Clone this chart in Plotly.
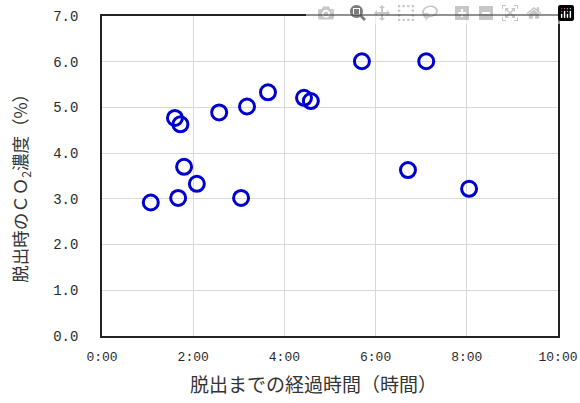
import plotly.graph_objects as go

# elapsed time until escape (hours) and CO2 concentration at escape (%)
elapsed_hours = [1.07, 1.60, 1.72, 1.80, 1.67, 2.08, 2.57, 3.18, 3.64, 3.05,
                 4.43, 4.58, 5.70, 7.11, 6.71, 8.05]
co2_percent = [2.92, 4.77, 4.63, 3.70, 3.02, 3.33, 4.89, 5.02, 5.33, 3.02,
               5.21, 5.14, 6.01, 6.01, 3.63, 3.22]

x_tick_vals = [0, 2, 4, 6, 8, 10]
x_tick_text = ["0:00", "2:00", "4:00", "6:00", "8:00", "10:00"]
y_tick_vals = [0, 1, 2, 3, 4, 5, 6, 7]
y_tick_text = ["0.0", "1.0", "2.0", "3.0", "4.0", "5.0", "6.0", "7.0"]

x_title = "脱出までの経過時間（時間）"
y_title = "脱出時のＣＯ<sub>2</sub>濃度（%）"

fig = go.Figure()
fig.add_trace(go.Scatter(
    x=elapsed_hours, y=co2_percent, mode="markers",
    marker=dict(symbol="circle-open", size=15, color="#0000CC",
                line=dict(width=3, color="#0000CC")),
    showlegend=False,
))

x_tick_font = dict(family="Liberation Mono, DejaVu Sans Mono, monospace", size=13, color="#2a2a2a")
y_tick_font = dict(family="Liberation Mono, DejaVu Sans Mono, monospace", size=14, color="#2a2a2a")
x_title_font = dict(family="Noto Sans CJK JP", size=19, color="#333333")
y_title_font = dict(family="Noto Sans CJK JP", size=17.5, color="#333333")

fig.update_layout(
    width=580, height=403,
    margin=dict(l=102, r=22, t=16, b=67),
    paper_bgcolor="white", plot_bgcolor="white",
    xaxis=dict(range=[0, 10], tickvals=x_tick_vals, ticktext=x_tick_text,
               showgrid=True, gridcolor="#d9d9d9", gridwidth=1,
               showline=True, linecolor="#222222", linewidth=1.5, mirror=True,
               zeroline=False, ticks="", tickfont=x_tick_font, automargin=False,
               ticklabelstandoff=8, ticklabeloverflow="allow"),
    yaxis=dict(range=[0, 7], tickvals=y_tick_vals, ticktext=y_tick_text,
               showgrid=True, gridcolor="#d9d9d9", gridwidth=1,
               showline=True, linecolor="#222222", linewidth=1.5, mirror=True,
               zeroline=False, ticks="", tickfont=y_tick_font, automargin=False,
               ticklabelstandoff=19, ticklabeloverflow="allow"),
    annotations=[
        dict(text=x_title, xref="paper", yref="paper", x=0.463, y=0,
             yshift=-47, showarrow=False, font=x_title_font,
             xanchor="center", yanchor="middle"),
        dict(text=y_title, xref="paper", yref="paper", x=-0.178, y=0.475,
             showarrow=False, font=y_title_font, textangle=-90,
             xanchor="center", yanchor="middle"),
    ],
)

fig.write_html(
    "out.html",
    post_script="document.body.style.margin='0';document.body.style.overflow='hidden';",
)
